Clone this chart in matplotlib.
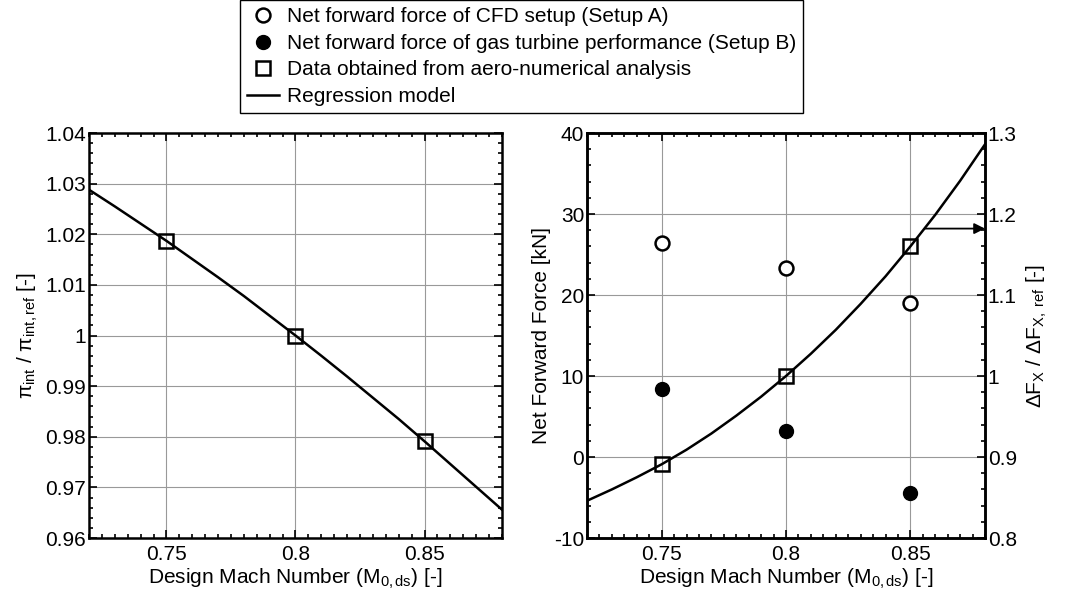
import numpy as np
import matplotlib
matplotlib.use("Agg")
from matplotlib import pyplot as plt
from matplotlib.ticker import MultipleLocator, FormatStrFormatter

plt.rcParams['font.family'] = ['Liberation Sans', 'DejaVu Sans']
plt.rcParams['mathtext.fontset'] = 'custom'
plt.rcParams['mathtext.rm'] = 'Liberation Sans'
plt.rcParams['mathtext.it'] = 'Liberation Sans:italic'
plt.rcParams['axes.unicode_minus'] = False
plt.rcParams['font.size'] = 15

# design Mach numbers of the analysed points
mach_pts = [0.75, 0.80, 0.85]
# left plot: intake pressure ratio (normalised)
pi_pts = [1.0187, 1.0000, 0.9791]
# regression curve
mach_fit = [0.72, 0.73, 0.74, 0.75, 0.76, 0.77, 0.78, 0.79, 0.80,
            0.81, 0.82, 0.83, 0.84, 0.85, 0.86, 0.87, 0.88]
pi_fit = [1.0288, 1.0255, 1.0221, 1.0187, 1.0151, 1.0115, 1.0078, 1.0039, 1.0000,
          0.9960, 0.9919, 0.9877, 0.9835, 0.9791, 0.9746, 0.9701, 0.9656]

# right plot: net forward force [kN]
force_cfd = [26.4, 23.3, 19.0]     # setup A
force_gt = [8.4, 3.2, -4.4]        # setup B
# delta F_X ratio (right axis)
dfx_pts = [0.891, 1.000, 1.160]
dfx_fit = [0.846, 0.860, 0.875, 0.891, 0.909, 0.929, 0.951, 0.9745, 1.000,
           1.0275, 1.057, 1.089, 1.123, 1.160, 1.199, 1.241, 1.286]

fs = 15
fig = plt.figure(figsize=(10.71, 6.01), dpi=100)
ax1 = fig.add_axes([0.0831, 0.1048, 0.3856, 0.6739])
ax2 = fig.add_axes([0.5481, 0.1048, 0.3716, 0.6739])

def style_axes(ax, right=True):
    for s in ax.spines.values():
        s.set_linewidth(1.8)
    ax.tick_params(which='both', direction='in', top=True, right=right, width=1.2)
    ax.tick_params(which='major', length=6, labelsize=fs, pad=2)
    ax.tick_params(axis='x', which='major', pad=5)
    ax.tick_params(which='minor', length=3)
    ax.grid(True, which='major', color='#999999', linewidth=0.8)
    ax.set_axisbelow(True)

# ----- left plot
sq_style = dict(marker='s', markersize=10, markerfacecolor='none',
                markeredgecolor='k', markeredgewidth=1.8, linestyle='none')
ax1.plot(mach_fit, pi_fit, color='k', lw=1.8)
ax1.plot(mach_pts, pi_pts, **sq_style)
ax1.set_xlim(0.72, 0.88)
ax1.set_ylim(0.96, 1.04)
ax1.xaxis.set_major_locator(MultipleLocator(0.05))
ax1.xaxis.set_minor_locator(MultipleLocator(0.005))
ax1.yaxis.set_major_locator(MultipleLocator(0.01))
ax1.yaxis.set_minor_locator(MultipleLocator(0.002))
ax1.xaxis.set_major_formatter(FormatStrFormatter('%g'))
ax1.yaxis.set_major_formatter(FormatStrFormatter('%g'))
style_axes(ax1)
ax1.set_xlabel(r'Design Mach Number (M$_{\rm 0,ds}$) [-]', fontsize=fs, labelpad=2)
ax1.set_ylabel(r'π$_{\rm int}$ / π$_{\rm int,ref}$ [-]', fontsize=fs, labelpad=4)

# ----- right plot
h_a, = ax2.plot(mach_pts, force_cfd, marker='o', markersize=10, markerfacecolor='white',
                markeredgecolor='k', markeredgewidth=1.8, linestyle='none',
                label='Net forward force of CFD setup (Setup A)')
h_b, = ax2.plot(mach_pts, force_gt, marker='o', markersize=10, markerfacecolor='k',
                markeredgecolor='k', linestyle='none',
                label='Net forward force of gas turbine performance (Setup B)')
ax2.set_xlim(0.72, 0.88)
ax2.set_ylim(-10, 40)
ax2.xaxis.set_major_locator(MultipleLocator(0.05))
ax2.xaxis.set_minor_locator(MultipleLocator(0.005))
ax2.yaxis.set_major_locator(MultipleLocator(10))
ax2.yaxis.set_minor_locator(MultipleLocator(2))
ax2.xaxis.set_major_formatter(FormatStrFormatter('%g'))
style_axes(ax2, right=False)
ax2.set_xlabel(r'Design Mach Number (M$_{\rm 0,ds}$) [-]', fontsize=fs, labelpad=2)
ax2.set_ylabel('Net Forward Force [kN]', fontsize=fs, labelpad=2)

ax3 = ax2.twinx()
h_fit, = ax3.plot(mach_fit, dfx_fit, color='k', lw=1.8, label='Regression model')
h_sq, = ax3.plot(mach_pts, dfx_pts, label='Data obtained from aero-numerical analysis', **sq_style)
ax3.set_ylim(0.8, 1.3)
ax3.yaxis.set_major_locator(MultipleLocator(0.1))
ax3.yaxis.set_minor_locator(MultipleLocator(0.02))
ax3.yaxis.set_major_formatter(FormatStrFormatter('%g'))
for s in ax3.spines.values():
    s.set_linewidth(1.8)
ax3.tick_params(which='both', direction='in', width=1.2)
ax3.tick_params(which='major', length=6, labelsize=fs, pad=2)
ax3.tick_params(which='minor', length=3)
ax3.set_ylabel(r'$\Delta$F$_{\rm X}$ / $\Delta$F$_{\rm X,\ ref}$ [-]', fontsize=fs, labelpad=6)
ax3.annotate('', xy=(0.88, 1.182), xytext=(0.8558, 1.182),
             arrowprops=dict(arrowstyle='-|>', color='k', lw=1.3, mutation_scale=16,
                             shrinkA=0, shrinkB=0))

leg = fig.legend([h_a, h_b, h_sq, h_fit],
                 [h_a.get_label(), h_b.get_label(), h_sq.get_label(), h_fit.get_label()],
                 loc='upper left', bbox_to_anchor=(240 / 1071, 1.0), fontsize=fs,
                 frameon=True, fancybox=False, edgecolor='k', framealpha=1,
                 handlelength=1.5, handletextpad=0.4, labelspacing=0.36,
                 borderpad=0.35, borderaxespad=0)
leg.get_frame().set_linewidth(1.0)

fig.savefig('out.png', dpi=100)
